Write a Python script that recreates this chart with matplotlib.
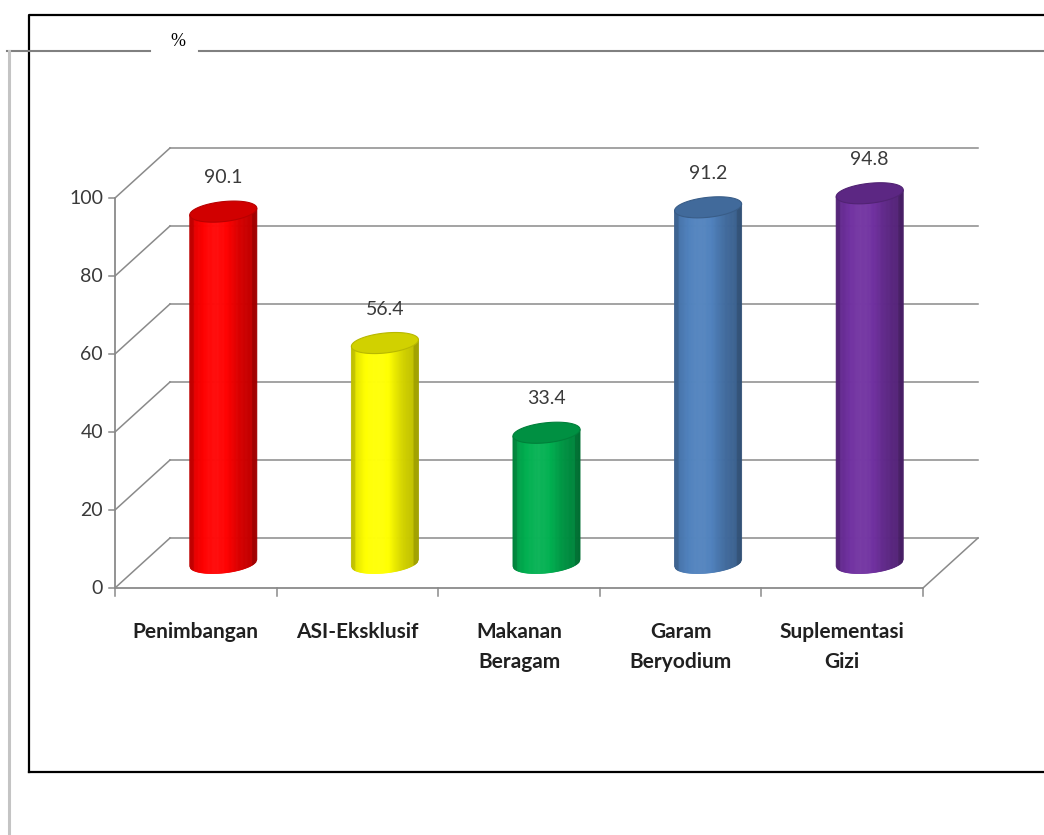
import numpy as np
import matplotlib

matplotlib.use("Agg")
import matplotlib.pyplot as plt
from matplotlib.colors import to_rgb
from matplotlib.lines import Line2D
from matplotlib.patches import Polygon
from matplotlib.transforms import IdentityTransform, offset_copy

categories = ["Penimbangan", "ASI-Eksklusif", "Makanan\nBeragam",
              "Garam\nBeryodium", "Suplementasi\nGizi"]
values = [90.1, 56.4, 33.4, 91.2, 94.8]
colors = ["#ff0000", "#ffff00", "#00b050", "#4f81bd", "#7030a0"]
y_ticks = [0, 20, 40, 60, 80, 100]

W, H, DPI = 1044, 835, 100
DEPTH = (55.0, 50.0)   # px shift of the back wall
BAR_W = 0.415          # cylinder width, category units
CAP = 10.0             # half height of the cylinder ellipses, px
SHEAR = 0.1            # slight perspective tilt of the ellipses
GRID = "#8a8a8a"
TXT = "#3a3a3a"
FONT = "Lato"

fig = plt.figure(figsize=(W / DPI, H / DPI), dpi=DPI)

# page decorations (frame + "%" header)
bg = fig.add_axes([0, 0, 1, 1], zorder=0)
bg.set_xlim(0, W)
bg.set_ylim(H, 0)
bg.axis("off")
bg.plot([29, 29, W + 5], [772, 15, 15], color="black", lw=1.6)
bg.plot([29, W + 5], [772, 772], color="black", lw=1.6)
bg.plot([7, 150], [51, 51], color="#808080", lw=1.5)
bg.plot([199, W + 5], [51, 51], color="#808080", lw=1.5)
bg.plot([9, 9], [51, H + 5], color="#c4c4c4", lw=2.2)
bg.text(178, 42, "%", ha="center", va="center", fontsize=13,
        family="Liberation Serif", color="black")

ax = fig.add_axes([115 / W, (H - 588) / H, 808 / W, 390 / H], zorder=1)
ax.set_xlim(-0.5, len(values) - 0.5)
ax.set_ylim(0, 100)
ax.axis("off")
x_lo, x_hi = -0.5, len(values) - 0.5


def proj(x, v, d=0.0):
    px, py = ax.transData.transform((x, v))
    return px + d * DEPTH[0], py + d * DEPTH[1]


def seg(p, q, **kw):
    ax.add_line(Line2D([p[0], q[0]], [p[1], q[1]], transform=IdentityTransform(),
                       clip_on=False, **kw))


# back wall gridlines + side wall diagonals
for v in y_ticks:
    seg(proj(x_lo, v, 1), proj(x_hi, v, 1), color=GRID, lw=1.1, zorder=1)
    seg(proj(x_lo, v, 0), proj(x_lo, v, 1), color=GRID, lw=1.1, zorder=1)
    seg(proj(x_lo, v, 0), (proj(x_lo, v, 0)[0] - 6, proj(x_lo, v, 0)[1]),
        color=GRID, lw=1.1)

# floor front edge, right edge, front axis
seg(proj(x_lo, 0, 0), proj(x_hi, 0, 0), color=GRID, lw=1.3, zorder=2)
seg(proj(x_hi, 0, 0), proj(x_hi, 0, 1), color=GRID, lw=1.1, zorder=1)
seg(proj(x_lo, 0, 0), proj(x_lo, 100, 0), color=GRID, lw=1.3, zorder=2)
for k in range(len(values) + 1):
    p = proj(x_lo + k, 0, 0)
    seg(p, (p[0], p[1] - 8), color=GRID, lw=1.1)


def shade(base, t):
    rgb = np.array(to_rgb(base))
    k = 0.8 + 0.3 * np.exp(-((t - 0.4) / 0.32) ** 2) - 0.06 * t
    if t < 0.06 or t > 0.94:
        k -= 0.12
    if k <= 1:
        return tuple(rgb * k)
    return tuple(rgb + (1 - rgb) * (k - 1) * 0.6)


def cylinder(i, v, color):
    cx, cb = proj(i, 0, 0.5)
    _, ct = proj(i, v, 0.5)
    a = (ax.transData.transform((BAR_W, 0))[0] - ax.transData.transform((0, 0))[0]) / 2
    n = 60
    xs = np.linspace(cx - a, cx + a, n + 1)
    for j in range(n):
        x0, x1 = xs[j], xs[j + 1]
        yb = [cb + SHEAR * (x - cx) - CAP * np.sqrt(max(0.0, 1 - ((x - cx) / a) ** 2))
              for x in (x0, x1)]
        yt = [ct + SHEAR * (x - cx) for x in (x0, x1)]
        c = shade(color, (0.5 * (x0 + x1) - cx + a) / (2 * a))
        ax.add_patch(Polygon([(x0, yb[0]), (x1, yb[1]), (x1, yt[1]), (x0, yt[0])],
                             closed=True, facecolor=c, edgecolor=c, lw=0.6,
                             transform=IdentityTransform(), clip_on=False, zorder=3))
    th = np.linspace(0, 2 * np.pi, 120)
    ex = cx + a * np.cos(th)
    ey = ct + SHEAR * a * np.cos(th) + CAP * np.sin(th)
    top = tuple(np.array(to_rgb(color)) * 0.82)
    ax.add_patch(Polygon(np.column_stack([ex, ey]), closed=True, facecolor=top,
                         edgecolor=tuple(np.array(to_rgb(color)) * 0.72), lw=0.8,
                         transform=IdentityTransform(), clip_on=False, zorder=4))


for i, (v, c) in enumerate(zip(values, colors)):
    cylinder(i, v, c)

val_tr = offset_copy(ax.transData, fig=fig, x=DEPTH[0] / 2, y=DEPTH[1] / 2 + 34, units="dots")
for i, v in enumerate(values):
    ax.text(i, v, f"{v:.1f}", transform=val_tr, ha="center", va="center",
            fontsize=14, family=FONT, color=TXT, zorder=5)

cat_tr = offset_copy(ax.transData, fig=fig, x=0, y=-34, units="dots")
for i, name in enumerate(categories):
    ax.text(i, 0, name, transform=cat_tr, ha="center", va="top", fontsize=15,
            family=FONT, fontweight="bold", color="#202020", linespacing=1.6)

tick_tr = offset_copy(ax.transData, fig=fig, x=-12, y=0, units="dots")
for v in y_ticks:
    ax.text(x_lo, v, str(v), transform=tick_tr, ha="right", va="center",
            fontsize=14, family=FONT, color=TXT)

fig.savefig("out.png", dpi=DPI)
